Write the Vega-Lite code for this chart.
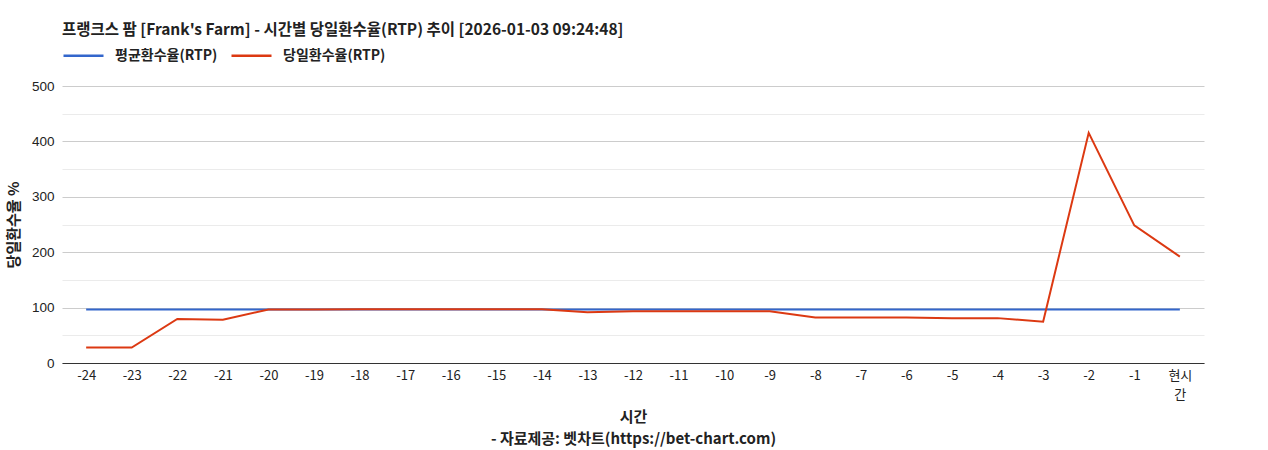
{
  "$schema": "https://vega.github.io/schema/vega-lite/v6.json",
  "autosize": "none",
  "padding": {"left": 62, "top": 86, "right": 64, "bottom": 87},
  "width": 1142,
  "height": 277,
  "background": "white",
  "title": {
    "text": "프랭크스 팜 [Frank's Farm] - 시간별 당일환수율(RTP) 추이 [2026-01-03 09:24:48]",
    "anchor": "start",
    "frame": "group",
    "font": "Noto Sans CJK KR",
    "fontSize": 15.5,
    "fontWeight": "bold",
    "color": "#222",
    "offset": -4
  },
  "config": {
    "view": {"stroke": null},
    "axis": {"labelFont": "Liberation Sans", "titleFont": "Noto Sans CJK KR"}
  },
  "data": {
    "values": [
      {"t": "-24", "s": "평균환수율(RTP)", "v": 96.5},
      {"t": "-23", "s": "평균환수율(RTP)", "v": 96.5},
      {"t": "-22", "s": "평균환수율(RTP)", "v": 96.5},
      {"t": "-21", "s": "평균환수율(RTP)", "v": 96.5},
      {"t": "-20", "s": "평균환수율(RTP)", "v": 96.5},
      {"t": "-19", "s": "평균환수율(RTP)", "v": 96.5},
      {"t": "-18", "s": "평균환수율(RTP)", "v": 96.5},
      {"t": "-17", "s": "평균환수율(RTP)", "v": 96.5},
      {"t": "-16", "s": "평균환수율(RTP)", "v": 96.5},
      {"t": "-15", "s": "평균환수율(RTP)", "v": 96.5},
      {"t": "-14", "s": "평균환수율(RTP)", "v": 96.5},
      {"t": "-13", "s": "평균환수율(RTP)", "v": 96.5},
      {"t": "-12", "s": "평균환수율(RTP)", "v": 96.5},
      {"t": "-11", "s": "평균환수율(RTP)", "v": 96.5},
      {"t": "-10", "s": "평균환수율(RTP)", "v": 96.5},
      {"t": "-9", "s": "평균환수율(RTP)", "v": 96.5},
      {"t": "-8", "s": "평균환수율(RTP)", "v": 96.5},
      {"t": "-7", "s": "평균환수율(RTP)", "v": 96.5},
      {"t": "-6", "s": "평균환수율(RTP)", "v": 96.5},
      {"t": "-5", "s": "평균환수율(RTP)", "v": 96.5},
      {"t": "-4", "s": "평균환수율(RTP)", "v": 96.5},
      {"t": "-3", "s": "평균환수율(RTP)", "v": 96.5},
      {"t": "-2", "s": "평균환수율(RTP)", "v": 96.5},
      {"t": "-1", "s": "평균환수율(RTP)", "v": 96.5},
      {"t": "현시간", "s": "평균환수율(RTP)", "v": 96.5},
      {"t": "-24", "s": "당일환수율(RTP)", "v": 28},
      {"t": "-23", "s": "당일환수율(RTP)", "v": 28},
      {"t": "-22", "s": "당일환수율(RTP)", "v": 79.5},
      {"t": "-21", "s": "당일환수율(RTP)", "v": 78},
      {"t": "-20", "s": "당일환수율(RTP)", "v": 96.5},
      {"t": "-19", "s": "당일환수율(RTP)", "v": 96.5},
      {"t": "-18", "s": "당일환수율(RTP)", "v": 96.8},
      {"t": "-17", "s": "당일환수율(RTP)", "v": 96.8},
      {"t": "-16", "s": "당일환수율(RTP)", "v": 96.8},
      {"t": "-15", "s": "당일환수율(RTP)", "v": 96.8},
      {"t": "-14", "s": "당일환수율(RTP)", "v": 96.8},
      {"t": "-13", "s": "당일환수율(RTP)", "v": 91.5},
      {"t": "-12", "s": "당일환수율(RTP)", "v": 93.5},
      {"t": "-11", "s": "당일환수율(RTP)", "v": 93.5},
      {"t": "-10", "s": "당일환수율(RTP)", "v": 93.5},
      {"t": "-9", "s": "당일환수율(RTP)", "v": 93.5},
      {"t": "-8", "s": "당일환수율(RTP)", "v": 82},
      {"t": "-7", "s": "당일환수율(RTP)", "v": 82},
      {"t": "-6", "s": "당일환수율(RTP)", "v": 82},
      {"t": "-5", "s": "당일환수율(RTP)", "v": 81},
      {"t": "-4", "s": "당일환수율(RTP)", "v": 81},
      {"t": "-3", "s": "당일환수율(RTP)", "v": 74.5},
      {"t": "-2", "s": "당일환수율(RTP)", "v": 415.5},
      {"t": "-1", "s": "당일환수율(RTP)", "v": 248.5},
      {"t": "현시간", "s": "당일환수율(RTP)", "v": 192}
    ]
  },
  "encoding": {
    "x": {
      "field": "t",
      "type": "ordinal",
      "sort": null,
      "scale": {"type": "point", "padding": 0.53},
      "axis": {
        "title": ["시간", "- 자료제공: 벳차트(https://bet-chart.com)"],
        "titleFontSize": 15,
        "titleFontWeight": "bold",
        "titleColor": "#222",
        "titleLineHeight": 22,
        "titlePadding": 8,
        "labelAngle": 0,
        "labelFontSize": 13,
        "labelColor": "#222",
        "labelPadding": 6,
        "labelLineHeight": 19,
        "labelExpr": "datum.label == '현시간' ? ['현시', '간'] : datum.label",
        "labelFont": "Noto Sans CJK KR",
        "ticks": false,
        "domainColor": "#333",
        "grid": false
      }
    },
    "y": {
      "field": "v",
      "type": "quantitative",
      "scale": {"domain": [0, 500], "nice": false},
      "axis": {
        "title": "당일환수율 %",
        "titleFontSize": 15,
        "titleFontWeight": "bold",
        "titleColor": "#222",
        "titlePadding": 10,
        "values": [0, 50, 100, 150, 200, 250, 300, 350, 400, 450, 500],
        "labelExpr": "datum.value % 100 === 0 ? datum.label : ''",
        "labelFontSize": 13.5,
        "labelColor": "#222",
        "labelPadding": 8,
        "ticks": false,
        "domain": false,
        "gridColor": {"condition": {"test": "datum.value % 100 === 0", "value": "#cccccc"}, "value": "#ebebeb"}
      }
    },
    "color": {
      "field": "s",
      "type": "nominal",
      "scale": {"domain": ["평균환수율(RTP)", "당일환수율(RTP)"], "range": ["#3366cc", "#dc3912"]},
      "legend": {
        "title": null,
        "orient": "top",
        "direction": "horizontal",
        "symbolType": "stroke",
        "symbolSize": 1600,
        "symbolStrokeWidth": 2.5,
        "labelFont": "Noto Sans CJK KR",
        "labelFontSize": 14,
        "labelFontWeight": "bold",
        "labelColor": "#222",
        "labelOffset": 10,
        "columnPadding": 8,
        "offset": 23
      }
    }
  },
  "layer": [
    {"transform": [{"filter": "datum.s == '평균환수율(RTP)'"}], "mark": {"type": "line", "strokeWidth": 2}},
    {"transform": [{"filter": "datum.s == '당일환수율(RTP)'"}], "mark": {"type": "line", "strokeWidth": 2}}
  ]
}
